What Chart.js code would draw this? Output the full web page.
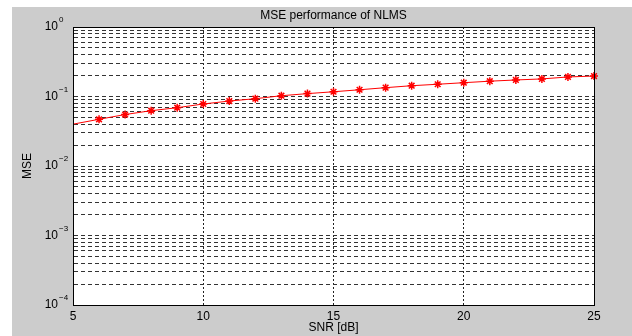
<!DOCTYPE html>
<html>
<head>
<meta charset="utf-8">
<script src="https://cdn.jsdelivr.net/npm/chart.js@4.4.1/dist/chart.umd.min.js"></script>
<style>
  html, body { margin: 0; padding: 0; background: #fff; }
  #box { position: relative; width: 632px; height: 336px; }
</style>
</head>
<body>
<div id="box"><canvas id="mseChart" width="632" height="336"></canvas></div>
<script>
const snr = [5, 6, 7, 8, 9, 10, 11, 12, 13, 14, 15, 16, 17, 18, 19, 20, 21, 22, 23, 24, 25];
const mse = [0.040, 0.047, 0.055, 0.0625, 0.069, 0.078, 0.086, 0.093, 0.1026, 0.11, 0.117,
             0.125, 0.134, 0.143, 0.150, 0.158, 0.166, 0.173, 0.179, 0.191, 0.197];
const xTicks = [5, 10, 15, 20, 25];
const yExponents = [-4, -3, -2, -1, 0];
const chartTitle = "MSE performance of NLMS";

const fontFam = "'Liberation Sans', Arial, sans-serif";

// MATLAB look: grey figure, white axes, closed box, 10^n labels, title over the axes
const matlabLook = {
  id: "matlabLook",
  beforeDraw(chart) {
    const ctx = chart.ctx;
    const a = chart.chartArea;
    ctx.save();
    ctx.fillStyle = "#cccccc";
    ctx.fillRect(12, 7, chart.width - 12, chart.height - 7);
    ctx.fillStyle = "#ffffff";
    ctx.fillRect(a.left, a.top, a.right - a.left, a.bottom - a.top);
    ctx.restore();
  },
  afterDraw(chart) {
    const ctx = chart.ctx;
    const a = chart.chartArea;
    const y = chart.scales.y;
    ctx.save();
    ctx.strokeStyle = "#000";
    ctx.lineWidth = 1;
    ctx.strokeRect(Math.round(a.left) + 0.5, Math.round(a.top) + 0.5,
                   Math.round(a.right - a.left), Math.round(a.bottom - a.top));
    ctx.fillStyle = "#000";
    ctx.font = "12px " + fontFam;
    ctx.textAlign = "center";
    ctx.textBaseline = "middle";
    ctx.fillText(chartTitle, (a.left + a.right) / 2, 16);
    yExponents.forEach(function (e) {
      const py = y.getPixelForValue(Math.pow(10, e));
      ctx.font = "12px " + fontFam;
      ctx.textAlign = "right";
      ctx.textBaseline = "middle";
      ctx.fillText("10", a.left - 15, py);
      ctx.font = "8px " + fontFam;
      ctx.textAlign = "left";
      ctx.fillText(String(e).replace("-", "\u2212"), a.left - 14, py - 7);
    });
    ctx.restore();
  }
};

new Chart("mseChart", {
  type: "line",
  data: {
    labels: snr,
    datasets: [{
      data: snr.map(function (s, i) { return { x: s, y: mse[i] }; }),
      borderColor: "#ff0000",
      backgroundColor: "#ff0000",
      borderWidth: 1,
      pointStyle: "star",
      pointRadius: snr.map(function (s, i) { return i === 0 ? 0 : 4; }),
      pointBorderWidth: 1.5,
      pointBorderColor: "#ff0000",
      tension: 0,
      clip: false
    }]
  },
  options: {
    responsive: false,
    animation: false,
    layout: { padding: { left: 0, right: 38, top: 27, bottom: 0 } },
    plugins: {
      legend: { display: false },
      tooltip: { enabled: false },
      title: { display: false }
    },
    scales: {
      x: {
        type: "linear",
        min: 5,
        max: 25,
        afterBuildTicks: function (scale) {
          scale.ticks = xTicks.map(function (v) { return { value: v }; });
        },
        afterFit: function (scale) { scale.height = 31; },
        ticks: {
          color: "#000",
          padding: 4,
          font: { family: fontFam, size: 12 }
        },
        grid: { color: "#222", drawTicks: false, lineWidth: 1 },
        border: { color: "#000", dash: [2, 2] },
        title: {
          display: true,
          text: "SNR [dB]",
          color: "#000",
          font: { family: fontFam, size: 12 },
          padding: { top: 0, bottom: 1 }
        }
      },
      y: {
        type: "logarithmic",
        min: 1e-4,
        max: 1,
        afterBuildTicks: function (scale) {
          const t = [];
          yExponents.forEach(function (e) {
            for (let m = 1; m <= 9; m++) {
              const v = m * Math.pow(10, e);
              if (v <= 1) t.push({ value: v });
            }
          });
          scale.ticks = t;
        },
        afterFit: function (scale) { scale.width = 73; },
        ticks: { display: false },
        grid: { color: "#333", drawTicks: false, lineWidth: 1 },
        border: { color: "#000", dash: [4, 3] },
        title: {
          display: true,
          text: "MSE",
          color: "#000",
          font: { family: fontFam, size: 12 },
          padding: { top: 20, bottom: 0 }
        }
      }
    }
  },
  plugins: [matlabLook]
});
</script>
</body>
</html>
